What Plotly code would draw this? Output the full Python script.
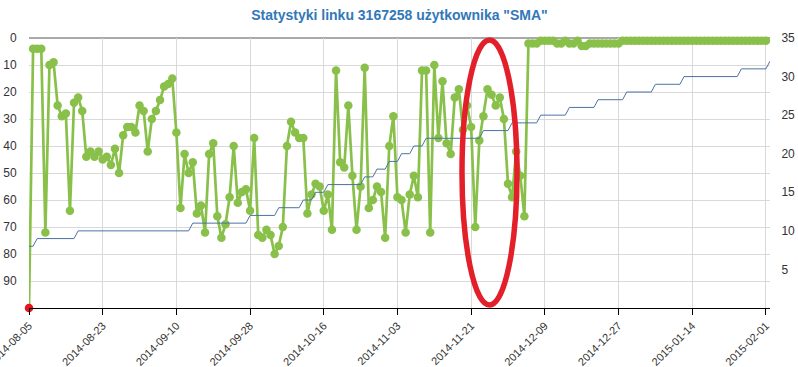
import pandas as pd
import plotly.graph_objects as go

title_text = 'Statystyki linku 3167258 użytkownika "SMA"'
start_date = "2014-08-05"

# Daily ranking position (left axis, reversed)
position = [
    100, 4, 4, 4, 72, 10, 9, 25, 29, 28,
    64, 24, 22, 27, 44, 42, 44, 42, 45, 44,
    47, 41, 50, 36, 33, 33, 35, 25, 27, 42,
    30, 27, 23, 18, 17, 15, 35, 63, 43, 50,
    46, 65, 62, 72, 43, 39, 66, 74, 69, 59,
    40, 61, 57, 56, 64, 37, 73, 74, 71, 73,
    80, 77, 70, 40, 31, 35, 37, 37, 65, 58,
    54, 55, 64, 58, 71, 12, 46, 48, 25, 51,
    71, 55, 11, 63, 60, 55, 57, 74, 40, 29,
    59, 60, 72, 58, 51, 59, 12, 12, 72, 10,
    37, 16, 39, 43, 22, 19, 34, 25, 33, 70,
    38, 29, 19, 21, 25, 22, 30, 54, 59, 42,
    51, 66, 2, 2, 2, 1, 1, 1, 1, 2,
    2, 1, 2, 2, 1, 3, 3, 2, 2, 2,
    2, 2, 2, 2, 2, 1, 1, 1, 1, 1,
    1, 1, 1, 1, 1, 1, 1, 1, 1, 1,
    1, 1, 1, 1, 1, 1, 1, 1, 1, 1,
    1, 1, 1, 1, 1, 1, 1, 1, 1, 1,
    1,
]

# Daily cumulative count (right axis)
count = [
    8, 8,
    9, 9, 9, 9, 9, 9, 9, 9, 9, 9,
    10, 10, 10, 10, 10, 10, 10, 10, 10, 10, 10, 10, 10, 10,
    10, 10, 10, 10, 10, 10, 10, 10, 10, 10, 10, 10, 10, 10,
    11, 11, 11, 11, 11, 11, 11, 11, 11, 11, 11, 11, 11, 11,
    12, 12, 12, 12, 12, 12, 12,
    13, 13, 13, 13, 13, 13,
    14, 14, 14,
    15, 15, 15,
    16, 16, 16, 16, 16, 16, 16, 16, 16,
    17, 17, 17,
    18, 18, 18,
    19, 19, 19,
    20, 20, 20,
    21, 21, 21,
    22, 22, 22, 22, 22, 22, 22, 22, 22, 22, 22, 22, 22, 22,
    23, 23, 23, 23, 23, 23, 23,
    24, 24, 24, 24, 24, 24, 24,
    25, 25, 25, 25, 25, 25, 25,
    26, 26, 26, 26, 26, 26, 26,
    27, 27, 27, 27, 27, 27, 27,
    28, 28, 28, 28, 28, 28, 28,
    29, 29, 29, 29, 29, 29, 29,
    30, 30, 30, 30, 30, 30, 30, 30, 30, 30, 30, 30, 30, 30,
    31, 31, 31, 31, 31, 31, 31,
    32,
]

x_ticks = ["2014-08-05", "2014-08-23", "2014-09-10", "2014-09-28", "2014-10-16",
           "2014-11-03", "2014-11-21", "2014-12-09", "2014-12-27", "2015-01-14",
           "2015-02-01"]
left_ticks = [0, 10, 20, 30, 40, 50, 60, 70, 80, 90]
right_ticks = [5, 10, 15, 20, 25, 30, 35]

pos_dates = pd.date_range(start_date, periods=len(position), freq="D")
cnt_dates = pd.date_range(start_date, periods=len(count), freq="D")

GREEN = "#88c04a"
BLUE = "#4a74a3"
RED = "#e8141c"
GRID = "#d9d9d9"
TXT = "#333333"

marker_colors = [RED] + [GREEN] * (len(position) - 1)

fig = go.Figure()
fig.add_trace(go.Scatter(
    x=pos_dates, y=position, mode="lines+markers",
    line=dict(color=GREEN, width=2.7),
    marker=dict(color=marker_colors, size=8.5),
    cliponaxis=False, yaxis="y", showlegend=False,
))
fig.add_trace(go.Scatter(
    x=cnt_dates, y=count, mode="lines",
    line=dict(color=BLUE, width=1),
    cliponaxis=False, yaxis="y2", showlegend=False,
))

fig.update_layout(
    width=798, height=367, autosize=False,
    margin=dict(l=29, r=28, t=38, b=59, pad=0, autoexpand=False),
    paper_bgcolor="white", plot_bgcolor="white",
    title=dict(text="<b>" + title_text + "</b>", x=0.5, xref="paper", xanchor="center",
               y=1 - 15 / 367, yref="container", yanchor="middle",
               font=dict(family="Liberation Sans, Arial, sans-serif", size=14, color="#3278b8")),
    font=dict(family="Liberation Sans, Arial, sans-serif", size=12, color=TXT),
    xaxis=dict(
        type="date", range=["2014-08-05", "2015-02-02"], automargin=False,
        tickmode="array", tickvals=x_ticks, ticktext=x_ticks, tickangle=-45,
        tickfont=dict(size=11, color=TXT), ticklabeloverflow="allow",
        showgrid=True, gridcolor=GRID, gridwidth=1,
        showline=True, linecolor="black", linewidth=1,
        ticks="outside", ticklen=6, tickcolor="black", zeroline=False,
    ),
    yaxis=dict(
        range=[100, 0], tickmode="array", tickvals=left_ticks, automargin=False,
        showgrid=True, gridcolor=GRID, gridwidth=1, zeroline=False,
        showline=False, ticks="outside", ticklen=9, tickcolor="rgba(0,0,0,0)",
        tickfont=dict(size=12, color=TXT), ticklabeloverflow="allow",
    ),
    yaxis2=dict(
        range=[0, 35], overlaying="y", side="right", tickmode="array", tickvals=right_ticks,
        automargin=False, showgrid=False, zeroline=False, showline=False,
        ticks="outside", ticklen=8, tickcolor="rgba(0,0,0,0)",
        tickfont=dict(size=12, color=TXT), ticklabeloverflow="allow",
    ),
    shapes=[
        dict(type="line", xref="paper", yref="paper", x0=0, x1=1, y0=1, y1=1,
             line=dict(color="#555555", width=1), layer="below"),
        dict(type="circle", xref="paper", yref="paper",
             x0=(462 - 29) / 741, x1=(517 - 29) / 741,
             y0=(308 - 305) / 270, y1=(308 - 40) / 270,
             line=dict(color="#e3202a", width=5.5), layer="above"),
    ],
)

fig.write_html("out.html", config={"displayModeBar": False},
               post_script="document.body.style.margin='0';")
